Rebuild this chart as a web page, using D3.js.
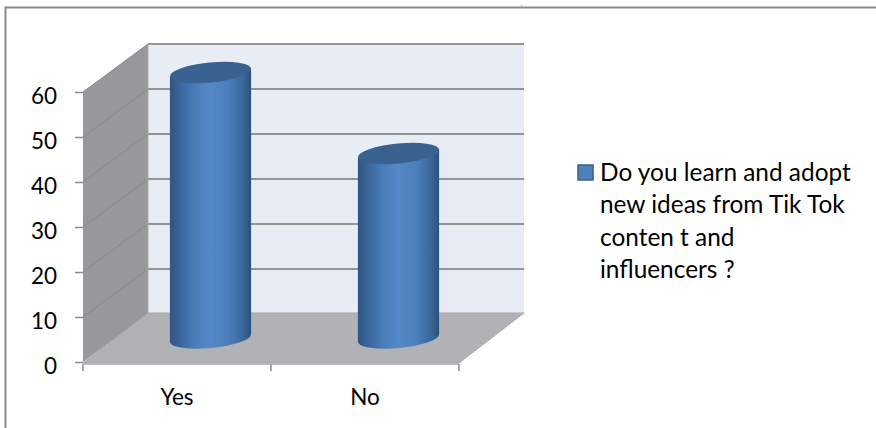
<!DOCTYPE html>
<html>
<head>
<meta charset="utf-8">
<script src="https://cdn.jsdelivr.net/npm/d3@7/dist/d3.min.js"></script>
<style>
html,body{margin:0;padding:0;background:#fff;overflow:hidden}
svg{display:block}
text{font-family:Lato,"Open Sans",sans-serif;fill:#000}
</style>
</head>
<body>
<svg id="chart" width="876" height="428"></svg>
<script>
const categories = ["Yes", "No"];
const seriesValues = [59, 41];
const yTicks = [0, 10, 20, 30, 40, 50, 60];
const legendLines = ["Do you learn and adopt", "new ideas from Tik Tok", "conten t and", "influencers ?"];

const svg = d3.select("#chart");

// Front plane of the 3D box, plus the depth vector to its back plane
const x = d3.scaleBand().domain(categories).range([83, 459]);
const y = d3.scaleLinear().domain([0, 60]).range([362, 92]);
const depth = { dx: 65, dy: -48 };
const left = x.range()[0], right = x.range()[1];
const base = y(0), top60 = y(60);
const poly = pts => pts.map(p => p.join(",")).join(" ");

const defs = svg.append("defs");
const grad = defs.append("linearGradient").attr("id", "cyl").attr("x1", 0).attr("x2", 1).attr("y1", 0).attr("y2", 0);
[[0, "#2f5583"], [0.12, "#38659b"], [0.3, "#4a7cb8"], [0.5, "#5588c8"], [0.7, "#4d80bd"], [0.88, "#3c6a9f"], [1, "#2e5079"]]
  .forEach(([o, c]) => grad.append("stop").attr("offset", o).attr("stop-color", c));

// Outer chart frame: only the top and left edges fall inside the window
svg.append("path").attr("d", "M5.5,428V7.5H876").attr("fill", "none").attr("stroke", "#8a8a8a").attr("stroke-width", 2);
svg.append("text").attr("x", 521).attr("y", 4.6).attr("font-size", 5).style("font-family", "Liberation Serif").text(",");

// Back wall, side wall and floor
svg.append("polygon").attr("fill", "#e8ecf5")
  .attr("points", poly([[left + depth.dx, base + depth.dy], [right + depth.dx, base + depth.dy], [right + depth.dx, top60 + depth.dy], [left + depth.dx, top60 + depth.dy]]));
svg.append("polygon").attr("fill", "#97989b")
  .attr("points", poly([[left, base], [left + depth.dx, base + depth.dy], [left + depth.dx, top60 + depth.dy], [left, top60]]));
svg.append("polygon").attr("fill", "#b0b2b6").attr("stroke", "#a6a7aa")
  .attr("points", poly([[left, base + 1], [right, base + 1], [right + depth.dx, base + depth.dy - 1], [left + depth.dx, base + depth.dy - 1]]));

// Gridlines run across the back wall and fold down the side wall
yTicks.forEach(t => {
  if (t > 0) {
    svg.append("line").attr("x1", left + depth.dx).attr("x2", right + depth.dx)
      .attr("y1", y(t) + depth.dy).attr("y2", y(t) + depth.dy)
      .attr("stroke", "#949494").attr("stroke-width", 2);
    svg.append("line").attr("x1", left).attr("x2", left + depth.dx)
      .attr("y1", y(t)).attr("y2", y(t) + depth.dy)
      .attr("stroke", "#87888b").attr("stroke-width", 1);
  }
});
svg.append("line").attr("x1", left + depth.dx).attr("x2", left + depth.dx)
  .attr("y1", base + depth.dy).attr("y2", top60 + depth.dy).attr("stroke", "#a9aaad");

// Cylinders stand halfway into the box depth
const rx = 40.8, ry = 10, tilt = -5.6;
const tiltRad = tilt * Math.PI / 180;
const ex = rx * Math.cos(tiltRad), ey = rx * Math.sin(tiltRad);
categories.forEach((c, i) => {
  const cx = x(c) + x.bandwidth() / 2 + depth.dx / 2 + 1;
  const by = y(0) + depth.dy / 2;
  const ty = y(seriesValues[i]) + depth.dy / 2;
  svg.append("path").attr("fill", "url(#cyl)")
    .attr("d", `M${cx - ex},${ty - ey}L${cx - ex},${by - ey}A${rx},${ry} ${tilt} 0 0 ${cx + ex},${by + ey}L${cx + ex},${ty + ey}Z`);
  svg.append("ellipse").attr("cx", 0).attr("cy", 0).attr("rx", rx).attr("ry", ry)
    .attr("transform", `translate(${cx},${ty}) rotate(${tilt})`)
    .attr("fill", "#3a6291");
});

// Axes
const yAxis = svg.append("g").attr("transform", `translate(${left},0)`)
  .call(d3.axisLeft(y).tickValues(yTicks).tickSize(8).tickPadding(18));
yAxis.select(".domain").remove();
yAxis.selectAll("line").attr("stroke", "#8a8a8a").attr("stroke-width", 1.5);
yAxis.selectAll("text").attr("font-size", 22.5).style("font-family", "Lato").attr("dy", "0.49em");

const bound = [left, x("No"), right];
svg.selectAll(".xtick").data(bound).join("line").attr("class", "xtick")
  .attr("x1", d => d).attr("x2", d => d).attr("y1", base + 2).attr("y2", base + 9)
  .attr("stroke", "#8a8a8a").attr("stroke-width", 1.5);
svg.append("line").attr("x1", left).attr("x2", right).attr("y1", base + 2).attr("y2", base + 2).attr("stroke", "#a9aaad").attr("stroke-width", 1.5);
svg.selectAll(".xlabel").data(categories).join("text").attr("class", "xlabel")
  .attr("x", d => x(d) + x.bandwidth() / 2).attr("y", 405)
  .attr("text-anchor", "middle").attr("font-size", 22.5).text(d => d);

// Legend
svg.append("rect").attr("x", 578).attr("y", 165).attr("width", 15).attr("height", 15)
  .attr("fill", "#4f81bd").attr("stroke", "#385d8a").attr("stroke-width", 1.5);
svg.selectAll(".legend").data(legendLines).join("text").attr("class", "legend")
  .attr("x", 600).attr("y", (d, i) => 181 + i * 32.3).attr("font-size", 24.4).text(d => d);
</script>
</body>
</html>
